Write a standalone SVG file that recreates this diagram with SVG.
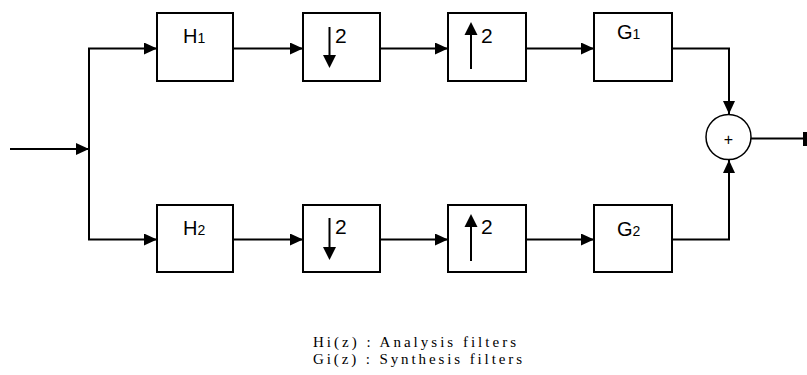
<svg xmlns="http://www.w3.org/2000/svg" width="807" height="375" viewBox="0 0 807 375">
<style>
.box{fill:#fff;stroke:#000;stroke-width:2}
.wire{fill:none;stroke:#000;stroke-width:2}
.lbl{font-family:"Liberation Sans",Arial,sans-serif;font-size:20px;fill:#000}
.sub{font-size:14px}
.num{font-family:"Liberation Sans",Arial,sans-serif;font-size:21px;fill:#000}
.cap{font-family:"Liberation Serif","Times New Roman",serif;font-size:15px;fill:#000}
</style>
<defs>
<marker id="ah" markerUnits="userSpaceOnUse" markerWidth="13" markerHeight="12" refX="13" refY="6" orient="auto">
<path d="M0,0 L13,6 L0,12 z" fill="#000"/>
</marker>
</defs>
<rect width="807" height="375" fill="#fff"/>
<g id="connectors">
<path class="wire" d="M10,149 H89" marker-end="url(#ah)"/>
<path class="wire" d="M89,48.5 V239.5"/>
<path class="wire" d="M88,48.5 H157" marker-end="url(#ah)"/>
<path class="wire" d="M88,239.5 H157" marker-end="url(#ah)"/>
<path class="wire" d="M233,48.5 H303" marker-end="url(#ah)"/>
<path class="wire" d="M380,48.5 H448" marker-end="url(#ah)"/>
<path class="wire" d="M526,48.5 H594" marker-end="url(#ah)"/>
<path class="wire" d="M233,239.5 H303" marker-end="url(#ah)"/>
<path class="wire" d="M380,239.5 H448" marker-end="url(#ah)"/>
<path class="wire" d="M526,239.5 H594" marker-end="url(#ah)"/>
<path class="wire" d="M672,48.5 H729 V114" marker-end="url(#ah)"/>
<path class="wire" d="M672,239.5 H729 V160" marker-end="url(#ah)"/>
<path class="wire" d="M751,138.5 H805"/>
<rect x="803" y="132" width="4" height="14" fill="#000"/>
</g>
<g id="H1">
<rect class="box" x="157" y="13" width="76" height="68"/>
<text class="lbl" x="183" y="43">H<tspan class="sub">1</tspan></text>
</g>
<g id="down1">
<rect class="box" x="303" y="13" width="77" height="68"/>
<path class="wire" d="M329.5,27 V56"/>
<path d="M323,55 L336,55 L329.5,68 z" fill="#000"/>
<text class="num" x="335" y="43">2</text>
</g>
<g id="up1">
<rect class="box" x="448" y="13" width="78" height="68"/>
<path class="wire" d="M471,69 V34"/>
<path d="M464.5,35 L477.5,35 L471,22 z" fill="#000"/>
<text class="num" x="481" y="43">2</text>
</g>
<g id="G1">
<rect class="box" x="594" y="13" width="78" height="68"/>
<text class="lbl" x="617" y="39">G<tspan class="sub">1</tspan></text>
</g>
<g id="H2">
<rect class="box" x="157" y="205" width="76" height="67"/>
<text class="lbl" x="183" y="235">H<tspan class="sub">2</tspan></text>
</g>
<g id="down2">
<rect class="box" x="303" y="205" width="77" height="67"/>
<path class="wire" d="M329.5,218 V248"/>
<path d="M323,247 L336,247 L329.5,260 z" fill="#000"/>
<text class="num" x="335" y="234">2</text>
</g>
<g id="up2">
<rect class="box" x="448" y="205" width="78" height="67"/>
<path class="wire" d="M471,261 V226"/>
<path d="M464.5,227 L477.5,227 L471,214 z" fill="#000"/>
<text class="num" x="481" y="234">2</text>
</g>
<g id="G2">
<rect class="box" x="594" y="205" width="78" height="67"/>
<text class="lbl" x="617" y="236">G<tspan class="sub">2</tspan></text>
</g>
<g id="sum">
<circle cx="728.5" cy="137" r="22.5" fill="#fff" stroke="#000" stroke-width="1.5"/>
<text x="728.5" y="145" text-anchor="middle" style="font-family:'Liberation Sans',Arial,sans-serif;font-size:16px">+</text>
</g>
<g id="caption">
<text class="cap" x="313" y="347" textLength="203" lengthAdjust="spacing">Hi(z) : Analysis filters</text>
<text class="cap" x="313" y="364" textLength="209" lengthAdjust="spacing">Gi(z) : Synthesis filters</text>
</g>
</svg>
